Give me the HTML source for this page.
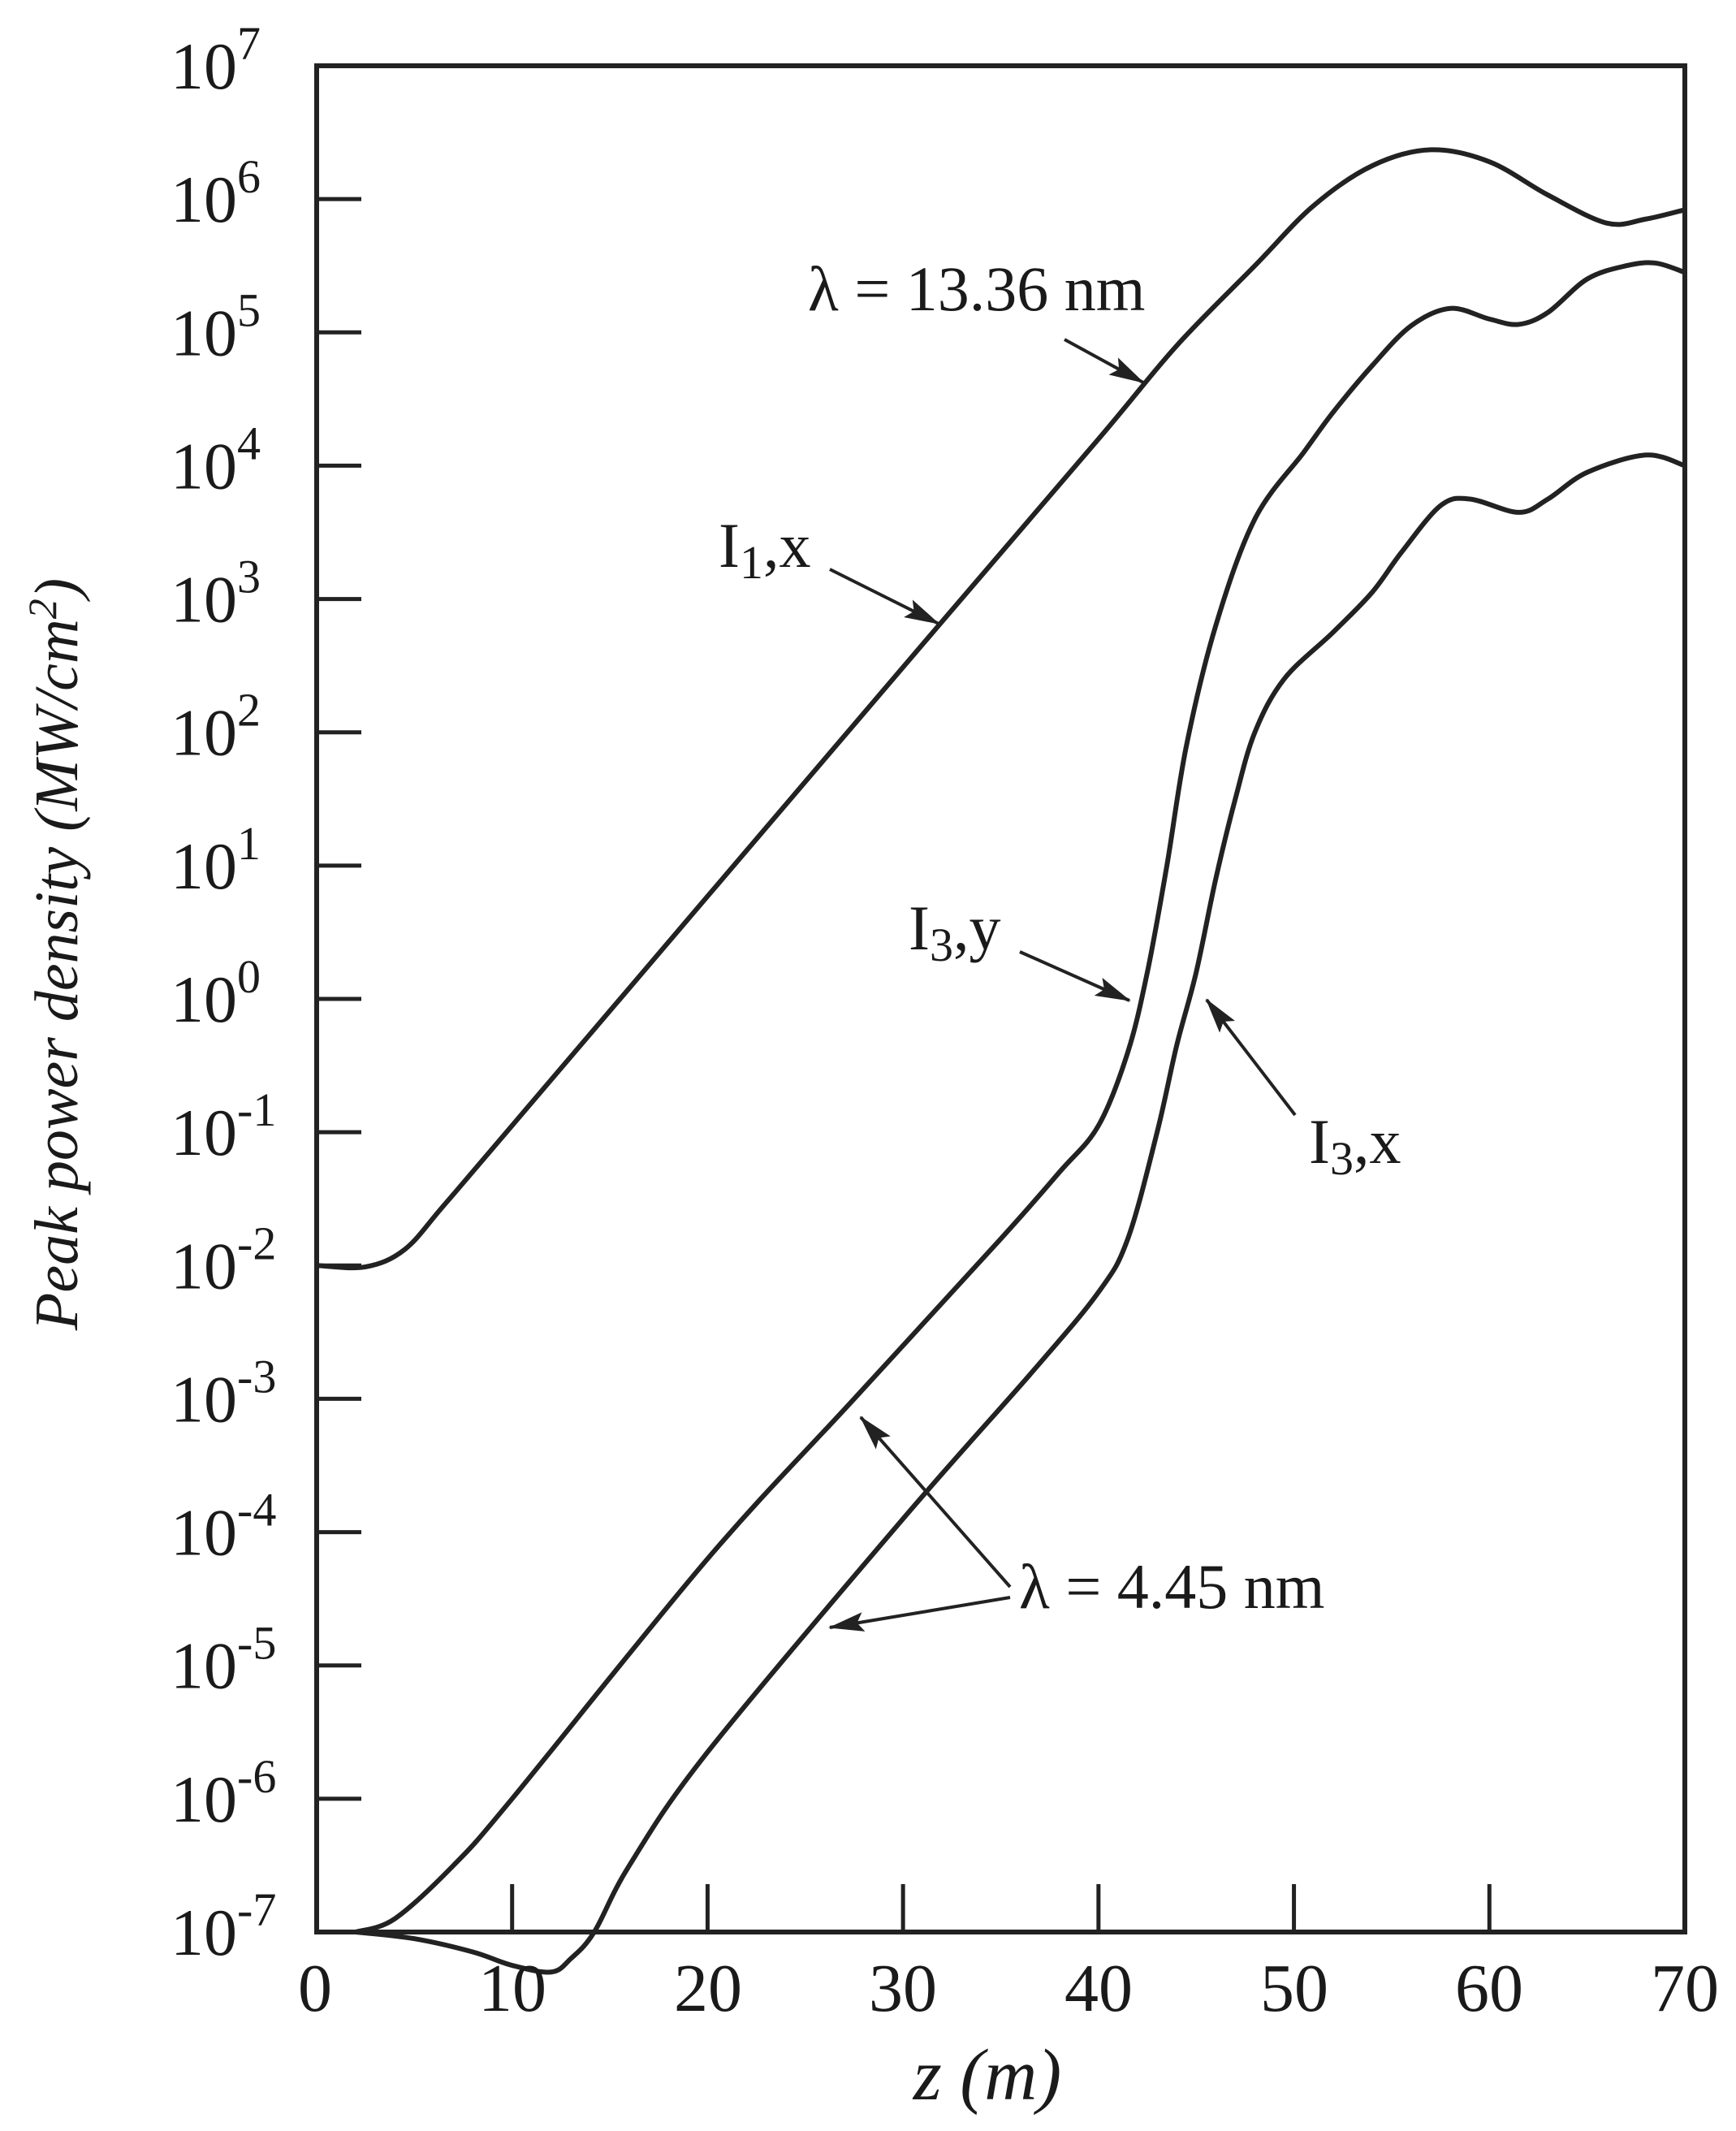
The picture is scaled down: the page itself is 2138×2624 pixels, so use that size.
<!DOCTYPE html>
<html><head><meta charset="utf-8"><style>
html,body{margin:0;padding:0;background:#fff}
svg{display:block}
text{font-family:"Liberation Serif",serif;fill:#1a1a1a}
</style></head><body>
<svg id="s" width="2138" height="2624" viewBox="0 0 2138 2624" xmlns="http://www.w3.org/2000/svg">
<defs><marker id="ah" markerWidth="44" markerHeight="24" refX="42" refY="12" orient="auto" markerUnits="userSpaceOnUse" viewBox="0 0 44 24"><path d="M0,0 L44,12 L0,24 L8,12 z" fill="#222"/></marker></defs>
<g id="ticks" stroke="#222" stroke-width="5"></g>
<rect x="390" y="81" width="1685" height="2298" fill="none" stroke="#222" stroke-width="6"/>
<g id="curves" fill="none" stroke="#222" stroke-width="6"></g>
<g id="ylabels" font-size="82"></g>
<g font-size="84" text-anchor="middle">
<text x="388" y="2476">0</text><text x="631" y="2476">10</text><text x="872" y="2476">20</text><text x="1112" y="2476">30</text><text x="1353" y="2476">40</text><text x="1594" y="2476">50</text><text x="1834" y="2476">60</text><text x="2075" y="2476">70</text>
</g>
<text x="1216" y="2585" font-size="90" font-style="italic" text-anchor="middle">z (m)</text>
<text transform="translate(95,1175) rotate(-90)" font-size="76" font-style="italic" text-anchor="middle">Peak power density (MW/cm<tspan font-size="50" dy="-26">2</tspan><tspan dy="26">)</tspan></text>
<text x="995" y="382" font-size="78">λ = 13.36 nm</text>
<text x="885" y="698" font-size="78">I<tspan font-size="58" dy="14">1</tspan><tspan dy="-14">,x</tspan></text>
<text x="1119" y="1169" font-size="78">I<tspan font-size="58" dy="14">3</tspan><tspan dy="-14">,y</tspan></text>
<text x="1612" y="1432" font-size="78">I<tspan font-size="58" dy="14">3</tspan><tspan dy="-14">,x</tspan></text>
<text x="1255" y="1980" font-size="78">λ = 4.45 nm</text>
<g stroke="#222" stroke-width="4" marker-end="url(#ah)">
<line x1="1311" y1="418" x2="1408" y2="471"/>
<line x1="1022" y1="701" x2="1156" y2="768"/>
<line x1="1256" y1="1172" x2="1391" y2="1232"/>
<line x1="1595" y1="1373" x2="1486" y2="1231"/>
<line x1="1244" y1="1954" x2="1060" y2="1745"/>
<line x1="1244" y1="1967" x2="1022" y2="2004"/>
</g>
</svg>
<script>
var X=function(z){return 390+z*1685/70},Y=function(l){return 81+(7-l)*2298/14};
var NS="http://www.w3.org/2000/svg";
var t=document.getElementById('ticks'),yl=document.getElementById('ylabels');
for(var e=7;e>=-7;e--){var y=Y(e);
 if(e<7&&e>-7){var l=document.createElementNS(NS,'line');l.setAttribute('x1',390);l.setAttribute('x2',445);l.setAttribute('y1',y);l.setAttribute('y2',y);t.appendChild(l);}
 var tx=document.createElementNS(NS,'text');tx.setAttribute('x',210);tx.setAttribute('y',y+28);
 tx.innerHTML='10<tspan font-size="58" dy="-36">'+(e<0?'-'+(-e):e)+'</tspan>';yl.appendChild(tx);}
for(var z=10;z<70;z+=10){var l=document.createElementNS(NS,'line');l.setAttribute('x1',X(z));l.setAttribute('x2',X(z));l.setAttribute('y1',2379);l.setAttribute('y2',2320);t.appendChild(l);}
function path(p){var q=p.map(function(a){return [X(a[0]),Y(a[1])]});var d='M'+q[0][0]+','+q[0][1];
 for(var i=0;i<q.length-1;i++){var p0=q[Math.max(i-1,0)],p1=q[i],p2=q[i+1],p3=q[Math.min(i+2,q.length-1)];
  d+=' C'+(p1[0]+(p2[0]-p0[0])/6)+','+(p1[1]+(p2[1]-p0[1])/6)+' '+(p2[0]-(p3[0]-p1[0])/6)+','+(p2[1]-(p3[1]-p1[1])/6)+' '+p2[0]+','+p2[1];}
 var e=document.createElementNS(NS,'path');e.setAttribute('d',d);document.getElementById('curves').appendChild(e);}
path([[0,-2],[2.5,-2.01],[4.5,-1.88],[6.5,-1.55],[10,-0.95],[20,0.77],[31.7,2.78],[40,4.2],[44,4.9],[48,5.5],[51,5.95],[54,6.25],[57,6.37],[60,6.28],[63,6.03],[66,5.82],[68,5.85],[70,5.92]]);
path([[2,-7],[4,-6.9],[7,-6.5],[10,-6.0],[20,-4.2],[27.5,-3],[35,-1.8],[38,-1.3],[40,-0.95],[41.5,-0.4],[42.5,0.2],[43.5,1.0],[44.5,1.9],[46,2.8],[48,3.6],[50.5,4.1],[52,4.4],[54,4.75],[56,5.05],[58,5.18],[60,5.1],[61.5,5.06],[63,5.15],[65,5.4],[67,5.5],[68.5,5.52],[70,5.45]]);
path([[2,-7],[5,-7.05],[8,-7.15],[10,-7.25],[12,-7.3],[13,-7.2],[14.2,-7],[16,-6.5],[20,-5.65],[30,-3.9],[36.6,-2.8],[40,-2.2],[41.5,-1.8],[43,-1.0],[44,-0.35],[45,0.2],[46,0.9],[47,1.5],[48,2.0],[49.5,2.4],[52,2.75],[54,3.05],[55.5,3.35],[57.5,3.7],[59,3.75],[61.5,3.65],[63,3.75],[65,3.95],[68,4.08],[70,4.0]]);
</script>
</body></html>
